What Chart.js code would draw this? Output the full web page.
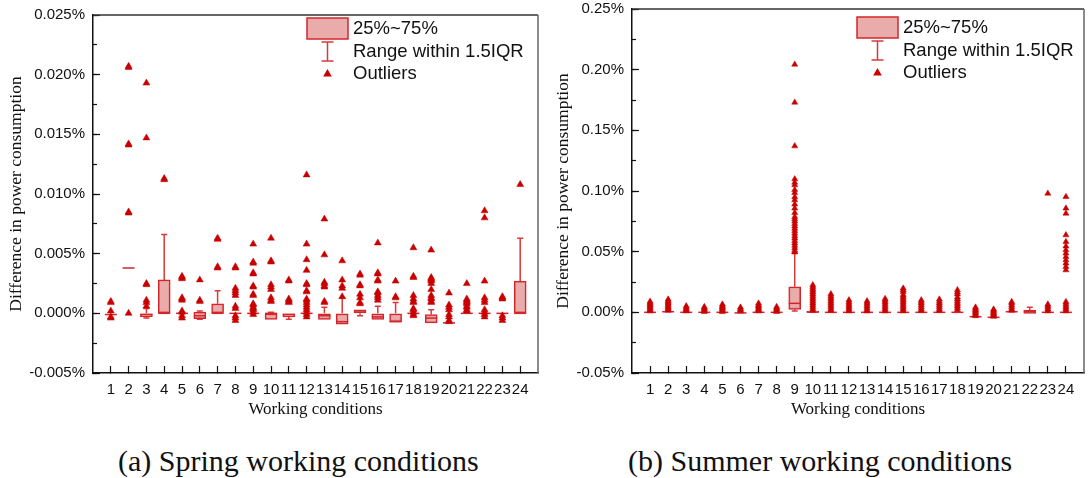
<!DOCTYPE html>
<html>
<head>
<meta charset="utf-8">
<script src="https://cdn.jsdelivr.net/npm/chart.js@4.4.1/dist/chart.umd.min.js"></script>
<style>
  body { margin: 0; background: #fff; width: 1090px; height: 478px; position: relative; overflow: hidden; }
  .panel { position: absolute; top: 0; width: 545px; height: 420px; }
  .caption { position: absolute; top: 446px; font-family: "Liberation Serif", "Times New Roman", serif; font-size: 30px; line-height: 30px; color: #111; white-space: nowrap; }
</style>
</head>
<body>
<div class="panel" style="left:0"><canvas id="spring" width="545" height="420"></canvas></div>
<div class="panel" style="left:545px"><canvas id="summer" width="545" height="420"></canvas></div>
<div class="caption" style="left:118px">(a) Spring working conditions</div>
<div class="caption" style="left:628px">(b) Summer working conditions</div>
<script>
// working conditions on the x axis
const conditions = [1, 2, 3, 4, 5, 6, 7, 8, 9, 10, 11, 12, 13, 14, 15, 16, 17, 18, 19, 20, 21, 22, 23, 24];
const legendLabels = ['25%~75%', 'Range within 1.5IQR', 'Outliers'];

// spring: box statistics (values in %)
const springQ1 = [-0.0001, 0.0038, -0.0003, 0.0000, 0.0000, -0.00045, 0.0000, 0.0000, 0.0000, -0.0005, -0.0003, 0.0000, -0.0005, -0.0009, 0.0000, -0.0005, -0.0007, 0.0000, -0.0008, -0.0008, 0.0000, 0.0000, 0.0000, 0.0000];
const springMedian = [-0.0001, 0.0038, -0.0001, 0.0000, 0.0000, -0.0002, 0.0000, 0.0000, 0.0000, 0.0000, -0.0001, 0.0000, -0.0002, -0.0007, 0.0002, -0.0003, -0.0007, 0.0000, -0.0004, -0.0008, 0.0000, 0.0000, 0.0000, 0.0000];
const springQ3 = [-0.0001, 0.0038, 0.0000, 0.0028, 0.0000, 0.0001, 0.0008, 0.0000, 0.0000, 0.0000, 0.0000, 0.0000, 0.0000, 0.0000, 0.0003, 0.0000, 0.0000, 0.0000, -0.0001, -0.0008, 0.0000, 0.0000, 0.0000, 0.0027];
const springLow = [-0.0001, 0.0038, -0.0004, 0.0000, 0.0000, -0.0005, 0.0000, 0.0000, 0.0000, -0.0005, -0.0005, 0.0000, -0.0005, -0.0009, -0.0002, -0.0005, -0.0007, 0.0000, -0.0008, -0.0008, 0.0000, 0.0000, 0.0000, 0.0000];
const springHigh = [-0.0001, 0.0038, 0.0004, 0.0066, 0.0000, 0.0002, 0.0019, 0.0000, 0.0000, 0.0001, 0.0000, 0.0000, 0.0005, 0.0013, 0.0003, 0.0006, 0.0009, 0.0000, 0.0003, -0.0008, 0.0000, 0.0000, 0.0000, 0.0063];
const springOutliers = [
  [0.0010, 0.0009, 0.0002, -0.0003, -0.0004],
  [0.0207, 0.0206, 0.0142, 0.0141, 0.0085, 0.0084, 0.0000],
  [0.0193, 0.0147, 0.0025, 0.0024, 0.0011, 0.0009, 0.0006],
  [0.0113, 0.0112],
  [0.0031, 0.0030, 0.0029, 0.0013, 0.0012, 0.0011, 0.0002, 0.0001, -0.0002, -0.0004],
  [0.0028, 0.0011, 0.0010],
  [0.0063, 0.0062, 0.0039, 0.0038],
  [0.0039, 0.0038, 0.0021, 0.0019, 0.0017, 0.0015, 0.0006, 0.0004, -0.0002, -0.0004, -0.0006],
  [0.0058, 0.0043, 0.0042, 0.0034, 0.0033, 0.0023, 0.0022, 0.0016, 0.0015, 0.0008, 0.0007, 0.0005, 0.0004, 0.0003, 0.0001, -0.0001],
  [0.0063, 0.0044, 0.0043, 0.0024, 0.0022, 0.0020, 0.0013, 0.0011, 0.0010],
  [0.0028, 0.0027, 0.0012, 0.0011, 0.0010, 0.0009],
  [0.0116, 0.0058, 0.0045, 0.0036, 0.0025, 0.0024, 0.0019, 0.0018, 0.0012, 0.0011, 0.0009, 0.0007, 0.0005, 0.0003, 0.0001, -0.0001, -0.0003],
  [0.0079, 0.0049, 0.0026, 0.0025, 0.0023, 0.0022, 0.0010, 0.0009],
  [0.0044, 0.0028, 0.0023, 0.0021, 0.0014],
  [0.0033, 0.0032, 0.0024, 0.0023, 0.0016, 0.0013, 0.0009, 0.0008],
  [0.0059, 0.0034, 0.0033, 0.0028, 0.0027, 0.0018, 0.0017, 0.0015, 0.0013, 0.0011],
  [0.0027, 0.0014, 0.0013],
  [0.0055, 0.0031, 0.0030, 0.0015, 0.0012, 0.0010, 0.0009, 0.0004, 0.0003, 0.0001, -0.0001, -0.0002],
  [0.0053, 0.0030, 0.0029, 0.0028, 0.0027, 0.0025, 0.0020, 0.0015, 0.0013, 0.0012, 0.0010, 0.0009],
  [0.0017, 0.0007, 0.0005, 0.0003, -0.0001, -0.0003, -0.0006, -0.0007],
  [0.0025, 0.0012, 0.0011, 0.0010, 0.0009, 0.0008, 0.0006, 0.0005, 0.0003, 0.0002],
  [0.0086, 0.0080, 0.0027, 0.0013, 0.0011, 0.0009, 0.0003, 0.0001, -0.0001, -0.0003],
  [0.0014, 0.0013, 0.0012, -0.0002, -0.0004, -0.0006],
  [0.0108]
];

// summer: box statistics (values in %)
const summerQ1 = [0, 0.0005, 0, 0, 0, -0.0005, 0, 0, 0.0025, 0, 0, 0, 0, 0, 0, 0, 0, 0, -0.0036, -0.0041, 0.0005, -0.0008, 0, 0];
const summerMedian = [0, 0.0005, 0, 0, 0, -0.0005, 0, 0, 0.0074, 0.0002, 0, 0, 0, 0, 0, 0, 0, 0, -0.0036, -0.0041, 0.0005, 0.0005, 0, 0];
const summerQ3 = [0, 0.0005, 0, 0, 0, -0.0005, 0, 0, 0.0211, 0.0009, 0, 0, 0, 0, 0, 0, 0, 0, -0.0036, -0.0041, 0.0005, 0.0019, 0, 0];
const summerLow = [0, 0.0005, 0, 0, 0, -0.0005, 0, 0, 0.0010, 0, 0, 0, 0, 0, 0, 0, 0, 0, -0.0036, -0.0041, 0.0005, -0.0008, 0, 0];
const summerHigh = [0, 0.0005, 0, 0, 0, -0.0005, 0, 0, 0.0486, 0.0009, 0, 0, 0, 0, 0, 0, 0, 0, -0.0036, -0.0041, 0.0005, 0.0041, 0, 0];
const summerOutliers = [
  [0.0090, 0.0080, 0.0070, 0.0060, 0.0050, 0.0040, 0.0030, 0.0020, 0.0010],
  [0.0107, 0.0095, 0.0085, 0.0075, 0.0065, 0.0055, 0.0045, 0.0035, 0.0025, 0.0015],
  [0.0052, 0.0040, 0.0030, 0.0020, 0.0010],
  [0.0045, 0.0035, 0.0025, 0.0015, 0.0005],
  [0.0066, 0.0055, 0.0045, 0.0035, 0.0025, 0.0015, 0.0005],
  [0.0041, 0.0030, 0.0020, 0.0010],
  [0.0074, 0.0060, 0.0050, 0.0040, 0.0030, 0.0020, 0.0010],
  [0.0046, 0.0035, 0.0025, 0.0015, 0.0005],
  [0.2043, 0.1730, 0.1370, 0.1098, 0.1070, 0.1049, 0.1010, 0.0985, 0.0950, 0.0925, 0.0890, 0.0857, 0.0820, 0.0788, 0.0770, 0.0750, 0.0730, 0.0710, 0.0690, 0.0670, 0.0650, 0.0630, 0.0610, 0.0590, 0.0570, 0.0550, 0.0530, 0.0510, 0.0495],
  [0.0225, 0.0210, 0.0195, 0.0180, 0.0165, 0.0150, 0.0135, 0.0120, 0.0105, 0.0090, 0.0075, 0.0060, 0.0045, 0.0030, 0.0015],
  [0.0151, 0.0135, 0.0120, 0.0105, 0.0090, 0.0075, 0.0060, 0.0045, 0.0030, 0.0015],
  [0.0101, 0.0085, 0.0070, 0.0055, 0.0040, 0.0025, 0.0010],
  [0.0093, 0.0080, 0.0065, 0.0050, 0.0035, 0.0020, 0.0010],
  [0.0112, 0.0098, 0.0085, 0.0070, 0.0055, 0.0040, 0.0025, 0.0010],
  [0.0198, 0.0185, 0.0170, 0.0145, 0.0130, 0.0115, 0.0100, 0.0085, 0.0070, 0.0055, 0.0040, 0.0025, 0.0010],
  [0.0101, 0.0088, 0.0075, 0.0060, 0.0045, 0.0030, 0.0015],
  [0.0107, 0.0090, 0.0075, 0.0060, 0.0045, 0.0030, 0.0015],
  [0.0184, 0.0165, 0.0150, 0.0125, 0.0110, 0.0095, 0.0080, 0.0065, 0.0050, 0.0035, 0.0020],
  [0.0041, 0.0030, 0.0020, 0.0010, 0.0000, -0.0010, -0.0020, -0.0030],
  [0.0025, 0.0015, 0.0005, -0.0005, -0.0015, -0.0025, -0.0035],
  [0.0087, 0.0075, 0.0060, 0.0045, 0.0030, 0.0015],
  [],
  [0.0980, 0.0066, 0.0055, 0.0040, 0.0025, 0.0010],
  [0.0952, 0.0857, 0.0815, 0.0637, 0.0582, 0.0545, 0.0513, 0.0486, 0.0458, 0.0431, 0.0404, 0.0376, 0.0348, 0.0087, 0.0070, 0.0055, 0.0040, 0.0025, 0.0010]
];

const boxFill = 'rgba(232, 162, 162, 0.9)';
const boxLine = '#d3262b';
const whiskerColor = '#d83a3a';
const outlierColor = '#c80000';
const axisColor = '#111';
const tickFont = { family: '"Liberation Sans", Arial, sans-serif', size: 15 };
const titleFont = { family: '"Liberation Serif", "Times New Roman", serif', size: 17 };

function buildChart(canvasId, q1, median, q3, low, high, outliers, layout) {
  const boxData = conditions.map((c, i) => ({ x: c, y: [q1[i], q3[i]] }));
  const outlierData = [];
  outliers.forEach((vals, i) => vals.forEach(v => outlierData.push({ x: conditions[i], y: v })));
  const halfBox = 6;

  // whisker lines behind the boxes, median dashes on top of them
  const whiskers = {
    id: 'whiskers',
    beforeDatasetsDraw(chart) {
      const { ctx, scales: { x, y } } = chart;
      ctx.save();
      ctx.strokeStyle = whiskerColor;
      ctx.lineWidth = 1.5;
      conditions.forEach((c, i) => {
        const px = x.getPixelForValue(c);
        if (high[i] > q3[i]) {
          const top = y.getPixelForValue(high[i]);
          ctx.beginPath();
          ctx.moveTo(px, y.getPixelForValue(q3[i]));
          ctx.lineTo(px, top);
          ctx.moveTo(px - 3, top);
          ctx.lineTo(px + 3, top);
          ctx.stroke();
        }
        if (low[i] < q1[i]) {
          const bottom = y.getPixelForValue(low[i]);
          ctx.beginPath();
          ctx.moveTo(px, y.getPixelForValue(q1[i]));
          ctx.lineTo(px, bottom);
          ctx.moveTo(px - 3, bottom);
          ctx.lineTo(px + 3, bottom);
          ctx.stroke();
        }
      });
      ctx.restore();
    },
    afterDatasetDraw(chart, args) {
      if (args.index !== 0) return;
      const { ctx, scales: { x, y } } = chart;
      ctx.save();
      ctx.strokeStyle = boxLine;
      ctx.lineWidth = 1.5;
      conditions.forEach((c, i) => {
        const px = x.getPixelForValue(c);
        const py = y.getPixelForValue(median[i]);
        ctx.beginPath();
        ctx.moveTo(px - halfBox, py);
        ctx.lineTo(px + halfBox, py);
        ctx.stroke();
      });
      ctx.restore();
    }
  };

  // top and right edges of the plot frame
  const frame = {
    id: 'frame',
    afterDraw(chart) {
      const { ctx, chartArea: a } = chart;
      ctx.save();
      ctx.lineWidth = 1.5;
      ctx.strokeStyle = '#333';
      ctx.beginPath();
      ctx.moveTo(a.left, a.top);
      ctx.lineTo(a.right, a.top);
      ctx.stroke();
      ctx.strokeStyle = '#666';
      ctx.beginPath();
      ctx.moveTo(a.right, a.top);
      ctx.lineTo(a.right, a.bottom);
      ctx.stroke();
      ctx.restore();
    }
  };

  // legend: box swatch, whisker symbol, outlier marker
  const boxLegend = {
    id: 'boxLegend',
    afterDraw(chart) {
      const ctx = chart.ctx;
      const lx = layout.legendX, ly = layout.legendY;
      const cx = lx + 20.5;
      ctx.save();
      ctx.fillStyle = boxFill;
      ctx.strokeStyle = boxLine;
      ctx.lineWidth = 1.5;
      ctx.fillRect(lx, ly, 41, 21);
      ctx.strokeRect(lx, ly, 41, 21);
      ctx.strokeStyle = whiskerColor;
      ctx.beginPath();
      ctx.moveTo(cx, ly + 24);
      ctx.lineTo(cx, ly + 43);
      ctx.moveTo(cx - 6, ly + 24);
      ctx.lineTo(cx + 6, ly + 24);
      ctx.moveTo(cx - 6, ly + 43);
      ctx.lineTo(cx + 6, ly + 43);
      ctx.stroke();
      ctx.fillStyle = outlierColor;
      ctx.strokeStyle = outlierColor;
      Chart.helpers.drawPoint(ctx, { pointStyle: 'triangle', radius: 3.5, borderWidth: 0.5 }, cx, ly + 56);
      ctx.fillStyle = axisColor;
      ctx.font = '18.5px "Liberation Sans", Arial, sans-serif';
      ctx.textBaseline = 'middle';
      legendLabels.forEach((t, i) => ctx.fillText(t, lx + 46, ly + 11 + i * 22.7));
      ctx.restore();
    }
  };

  return new Chart(document.getElementById(canvasId), {
    type: 'bar',
    data: {
      datasets: [
        {
          type: 'bar',
          label: legendLabels[0],
          data: boxData,
          backgroundColor: boxFill,
          borderColor: boxLine,
          borderWidth: 1.5,
          borderSkipped: false,
          barThickness: 12,
          xAxisID: 'x',
          yAxisID: 'y',
          order: 2
        },
        {
          type: 'scatter',
          label: legendLabels[2],
          data: outlierData,
          pointStyle: 'triangle',
          pointRadius: layout.marker,
          backgroundColor: outlierColor,
          borderColor: outlierColor,
          borderWidth: 0.5,
          xAxisID: 'x',
          yAxisID: 'y',
          order: 1
        }
      ]
    },
    options: {
      responsive: false,
      animation: false,
      events: [],
      layout: { padding: { top: layout.top, right: layout.right, left: 0, bottom: 0 } },
      plugins: { legend: { display: false }, tooltip: { enabled: false } },
      scales: {
        x: {
          type: 'linear',
          min: 0,
          max: 25,
          offset: false,
          afterFit: sc => { sc.height = 47; sc.paddingLeft = 0; sc.paddingRight = 0; },
          ticks: {
            stepSize: 1,
            autoSkip: false,
            minRotation: 0,
            maxRotation: 0,
            padding: 15,
            color: axisColor,
            font: tickFont,
            callback: v => (conditions.includes(v) ? String(v) : '')
          },
          grid: {
            drawOnChartArea: false,
            offset: false,
            tickLength: -7,
            tickWidth: 1.2,
            color: axisColor,
            tickColor: c => (c.tick && conditions.includes(c.tick.value) ? axisColor : 'rgba(0,0,0,0)')
          },
          border: { color: axisColor, width: 1.5 },
          title: { display: true, text: 'Working conditions', color: axisColor, font: titleFont, padding: { top: 0, bottom: 0 } }
        },
        y: {
          type: 'linear',
          position: 'left',
          weight: 1,
          min: layout.yMin,
          max: layout.yMax,
          afterFit: sc => { sc.width = layout.yWidth; sc.paddingTop = 0; sc.paddingBottom = 0; },
          ticks: {
            stepSize: layout.yStep,
            padding: 15,
            color: axisColor,
            font: tickFont,
            // round away float noise so zero never prints as "-0.00%"
            callback: v => (Math.abs(v) < 1e-9 ? 0 : v).toFixed(layout.digits) + '%'
          },
          grid: { drawOnChartArea: false, tickLength: -7, tickWidth: 1.2, color: axisColor },
          border: { color: axisColor, width: 1.5 },
          title: {
            display: true,
            text: 'Difference in power consumption',
            color: axisColor,
            font: { family: titleFont.family, size: 17.5 },
            padding: { top: layout.titlePad, bottom: 0 }
          }
        },
        // short inward ticks halfway between the labelled ones
        yMinor: {
          type: 'linear',
          position: 'left',
          weight: 0,
          min: layout.yMin,
          max: layout.yMax,
          afterFit: sc => { sc.width = 0; sc.paddingTop = 0; sc.paddingBottom = 0; },
          ticks: { stepSize: layout.yStep / 2, padding: 0, callback: () => '' },
          grid: { drawOnChartArea: false, tickLength: -4, tickWidth: 1.2, color: axisColor },
          border: { display: false }
        }
      }
    },
    plugins: [whiskers, frame, boxLegend]
  });
}

buildChart('spring', springQ1, springMedian, springQ3, springLow, springHigh, springOutliers, {
  top: 15, right: 7, yWidth: 93, titlePad: 6,
  yMin: -0.005, yMax: 0.025, yStep: 0.005, digits: 3,
  marker: 4, legendX: 307, legendY: 18
});

buildChart('summer', summerQ1, summerMedian, summerQ3, summerLow, summerHigh, summerOutliers, {
  top: 9, right: 6, yWidth: 87, titlePad: 8,
  yMin: -0.05, yMax: 0.25, yStep: 0.05, digits: 2,
  marker: 3.5, legendX: 312, legendY: 17
});
</script>
</body>
</html>
